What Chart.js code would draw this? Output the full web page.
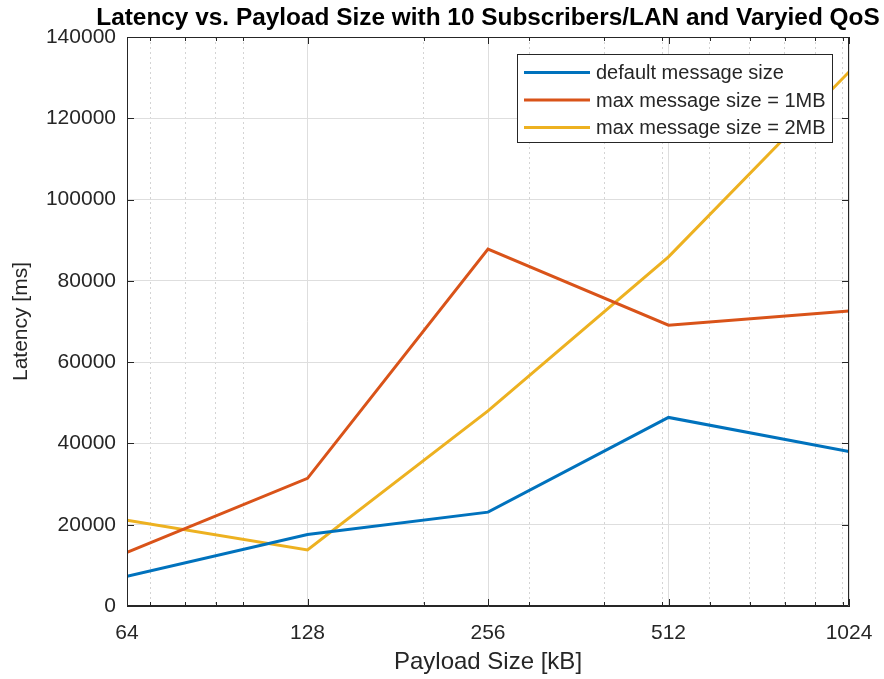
<!DOCTYPE html>
<html>
<head>
<meta charset="utf-8">
<title>Latency vs. Payload Size</title>
<script src="https://cdn.jsdelivr.net/npm/chart.js@4.4.1/dist/chart.umd.min.js"></script>
<style>
  body { margin: 0; background: #fff; }
  #myChart { display: block; }
</style>
</head>
<body>
<canvas id="myChart" width="884" height="679"></canvas>
<script>
// Payload sizes in kB (x axis, log2 spaced)
const payloadSizes = [64, 128, 256, 512, 1024];

// Latency in ms for each QoS setting
const latencyDefault = [7300, 17600, 23100, 46400, 38000];
const latency1MB = [13200, 31400, 87800, 69100, 72600];
const latency2MB = [21100, 13800, 48000, 85900, 131400];

const seriesLabels = ['default message size', 'max message size = 1MB', 'max message size = 2MB'];
const seriesColors = ['#0072BD', '#D95319', '#EDB120'];
const chartTitle = 'Latency vs. Payload Size with 10 Subscribers/LAN and Varyied QoS';

// tick positions
const xMajorTicks = [64, 128, 256, 512, 1024];
const xMinorTicks = [70, 80, 90, 100, 200, 300, 400, 500, 600, 700, 800, 900, 1000];
const yTicks = [0, 20000, 40000, 60000, 80000, 100000, 120000, 140000];

const axisColor = '#262626';
const gridColor = '#dedede';
const fontFamily = '"Liberation Sans", Arial, sans-serif';

const toPoints = (ys) => payloadSizes.map((x, i) => ({ x: x, y: ys[i] }));

// no label overflow padding on the x axes, the right margin is set in layout
const noSidePadding = (scale) => { scale.paddingLeft = 0; scale.paddingRight = 0; };

// title over the plot, box around the axes, inward tick marks, legend
const boxPlugin = {
  id: 'boxPlugin',
  afterDraw(chart) {
    const { ctx, chartArea: a, scales } = chart;
    ctx.save();

    ctx.fillStyle = '#000';
    ctx.font = 'bold 24.4px ' + fontFamily;
    ctx.textAlign = 'center';
    ctx.textBaseline = 'middle';
    ctx.fillText(chartTitle, (a.left + a.right) / 2, 18);
    ctx.textAlign = 'left';

    ctx.strokeStyle = axisColor;
    ctx.lineWidth = 1;
    ctx.beginPath();
    ctx.rect(a.left + 0.5, a.top + 0.5, a.right - a.left - 1, a.bottom - a.top - 1);
    ctx.stroke();

    ctx.beginPath();
    xMajorTicks.forEach(v => {
      const px = Math.round(scales.x.getPixelForValue(v)) + 0.5;
      ctx.moveTo(px, a.bottom); ctx.lineTo(px, a.bottom - 7);
      ctx.moveTo(px, a.top); ctx.lineTo(px, a.top + 7);
    });
    xMinorTicks.forEach(v => {
      const px = Math.round(scales.x.getPixelForValue(v)) + 0.5;
      ctx.moveTo(px, a.bottom); ctx.lineTo(px, a.bottom - 4);
      ctx.moveTo(px, a.top); ctx.lineTo(px, a.top + 4);
    });
    yTicks.forEach(v => {
      const py = Math.round(scales.y.getPixelForValue(v)) + 0.5;
      ctx.moveTo(a.left, py); ctx.lineTo(a.left + 7, py);
      ctx.moveTo(a.right, py); ctx.lineTo(a.right - 7, py);
    });
    ctx.stroke();

    // legend box in the upper right corner
    const lx = a.right - 332, ly = a.top + 17, lw = 315, lh = 88;
    ctx.fillStyle = '#fff';
    ctx.fillRect(lx, ly, lw, lh);
    ctx.strokeStyle = axisColor;
    ctx.strokeRect(lx + 0.5, ly + 0.5, lw, lh);
    ctx.font = '20px ' + fontFamily;
    ctx.textBaseline = 'middle';
    chart.data.datasets.forEach((ds, i) => {
      const y = ly + 18.5 + i * 27.5;
      ctx.strokeStyle = ds.borderColor;
      ctx.lineWidth = 3;
      ctx.beginPath();
      ctx.moveTo(lx + 7, y); ctx.lineTo(lx + 73, y);
      ctx.stroke();
      ctx.fillStyle = axisColor;
      ctx.fillText(ds.label, lx + 79, y + 1);
    });
    ctx.restore();
  }
};

const ctx = document.getElementById('myChart');

const myChart = new Chart(ctx, {
  type: 'line',
  data: {
    datasets: [
      { label: seriesLabels[0], data: toPoints(latencyDefault), borderColor: seriesColors[0] },
      { label: seriesLabels[1], data: toPoints(latency1MB), borderColor: seriesColors[1] },
      { label: seriesLabels[2], data: toPoints(latency2MB), borderColor: seriesColors[2] }
    ]
  },
  options: {
    responsive: false,
    animation: false,
    layout: { padding: { left: 0, right: 35, top: 37, bottom: 0 } },
    elements: {
      line: { borderWidth: 3, tension: 0, borderJoinStyle: 'miter' },
      point: { radius: 0 }
    },
    plugins: {
      legend: { display: false },
      tooltip: { enabled: false },
      title: { display: false }
    },
    scales: {
      x: {
        type: 'logarithmic',
        min: 64,
        max: 1024,
        afterBuildTicks: (scale) => { scale.ticks = xMajorTicks.map(v => ({ value: v })); },
        afterFit: (scale) => { scale.height = 73; noSidePadding(scale); },
        ticks: {
          autoSkip: false,
          maxRotation: 0,
          padding: 15,
          color: axisColor,
          font: { family: fontFamily, size: 21 },
          callback: (v) => String(v)
        },
        grid: { color: gridColor, drawTicks: false },
        border: { color: axisColor },
        title: {
          display: true,
          text: 'Payload Size [kB]',
          color: axisColor,
          font: { family: fontFamily, size: 24 },
          padding: { top: 0, bottom: 2 }
        }
      },
      // dotted minor grid of the log axis
      xMinor: {
        type: 'logarithmic',
        position: 'bottom',
        min: 64,
        max: 1024,
        afterBuildTicks: (scale) => { scale.ticks = xMinorTicks.map(v => ({ value: v })); },
        afterFit: noSidePadding,
        ticks: { display: false },
        grid: { color: '#d4d4d4', drawTicks: false },
        border: { display: false, dash: [2, 3] }
      },
      y: {
        min: 0,
        max: 140000,
        afterBuildTicks: (scale) => { scale.ticks = yTicks.map(v => ({ value: v })); },
        afterFit: (scale) => { scale.width = 127; },
        ticks: {
          padding: 11,
          color: axisColor,
          font: { family: fontFamily, size: 21 },
          callback: (v) => String(v)
        },
        grid: { color: gridColor, drawTicks: false },
        border: { color: axisColor },
        title: {
          display: true,
          text: 'Latency [ms]',
          color: axisColor,
          font: { family: fontFamily, size: 21 },
          padding: { top: 9, bottom: 0 }
        }
      }
    }
  },
  plugins: [boxPlugin]
});
</script>
</body>
</html>
